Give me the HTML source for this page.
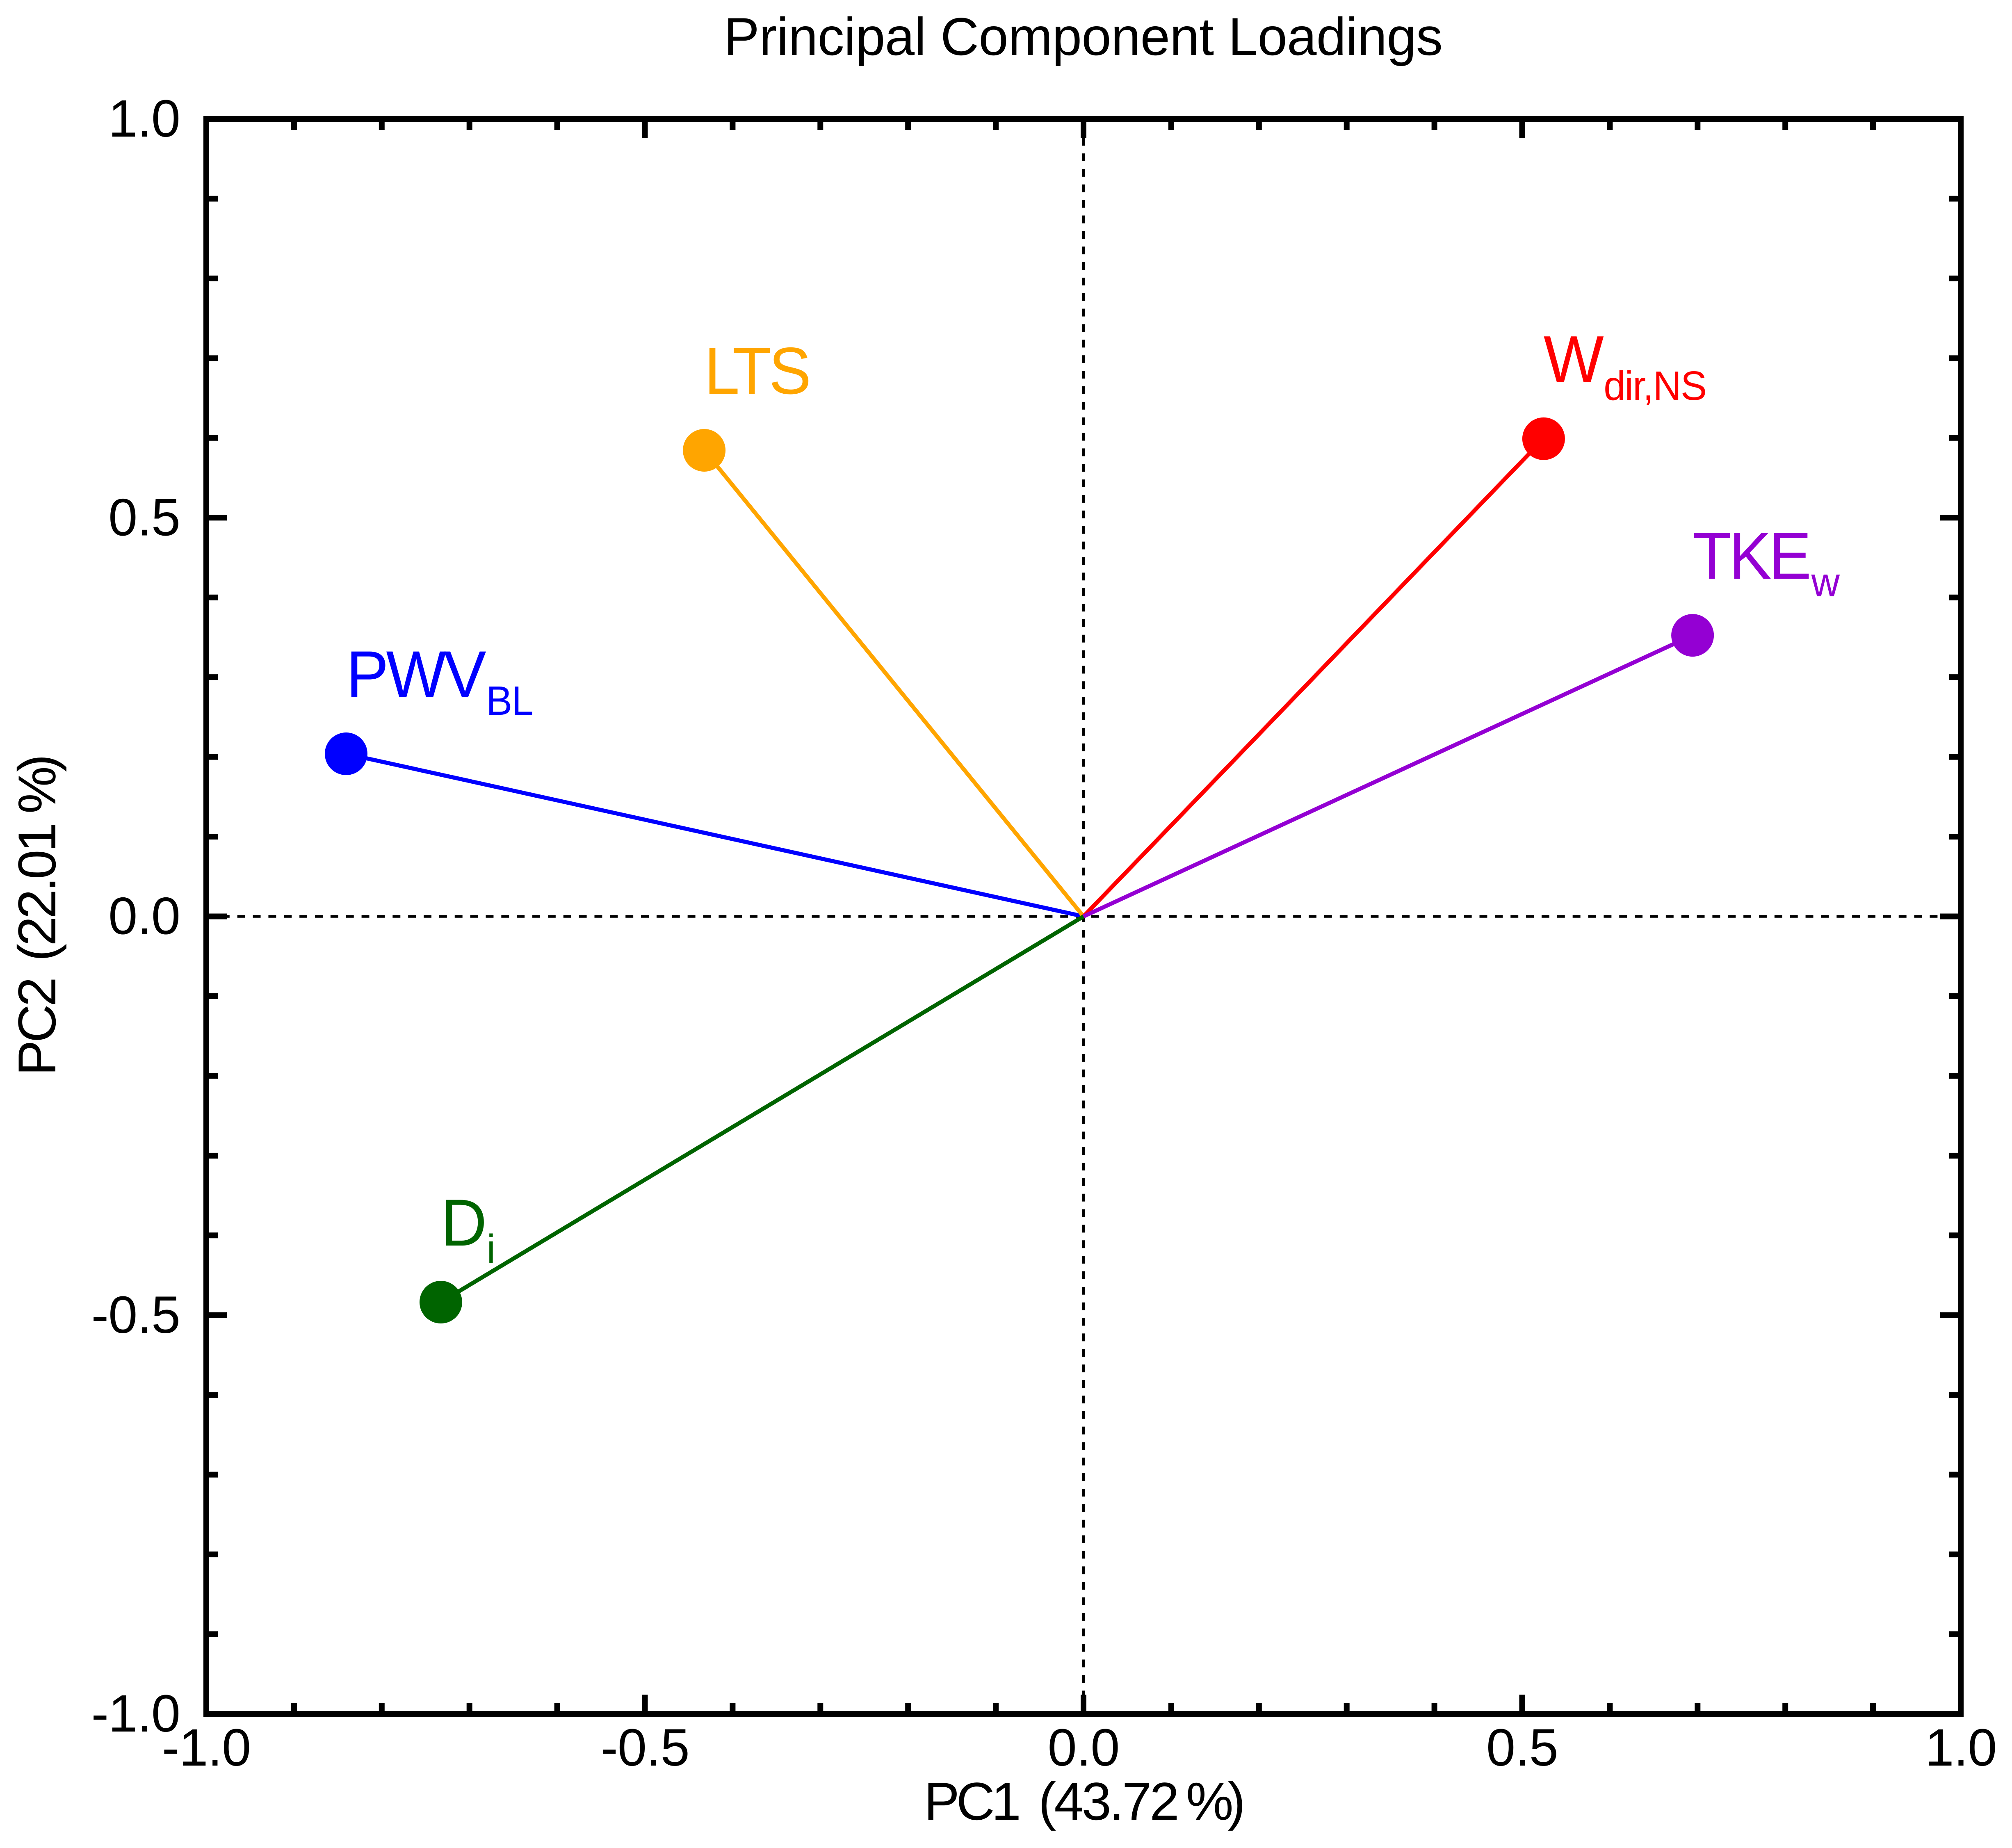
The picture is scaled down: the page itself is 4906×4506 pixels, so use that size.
<!DOCTYPE html>
<html lang="en">
<head>
<meta charset="utf-8">
<title>Principal Component Loadings</title>
<style>
  html, body { margin: 0; padding: 0; background: #fff; }
  svg { display: block; }
  text { font-family: "Liberation Sans", Arial, sans-serif; }
</style>
</head>
<body>
<svg id="chart" xmlns="http://www.w3.org/2000/svg" width="4906" height="4506" viewBox="0 0 4906 4506">
  <rect x="0" y="0" width="4906" height="4506" fill="#ffffff"/>
  <text x="1765" y="134" font-size="130" textLength="1753" lengthAdjust="spacing" fill="#000">Principal Component Loadings</text>
  <text y="4437" font-size="130" fill="#000"><tspan x="2253" letter-spacing="-8">PC1 </tspan><tspan x="2532" letter-spacing="-5">(43.72&#8201;</tspan><tspan x="2892" letter-spacing="-14">%)</tspan></text>
  <text transform="translate(135 2623) rotate(-90)" font-size="130" fill="#000"><tspan x="0" y="0" letter-spacing="-6">PC2 </tspan><tspan x="279" y="0" letter-spacing="-6">(22.01&#8201;</tspan><tspan x="639" y="0" letter-spacing="-14">%)</tspan></text>
  <g id="guides"></g>
  <g id="ticks"></g>
  <g id="tick-labels"></g>
  <g id="series"></g>
  <rect x="503" y="290" width="4278" height="3889" fill="none" stroke="#000" stroke-width="14"/>
</svg>
<script>
// Chart data
const variableNames = ["PWV", "LTS", "W", "D", "TKE"];
const variableSubscripts = ["BL", "", "dir,NS", "i", "w"];
const pc1Loadings = [-0.8406, -0.4324, 0.5245, -0.7326, 0.6943];
const pc2Loadings = [0.2039, 0.5845, 0.5990, -0.4837, 0.3525];
const seriesColors = ["#0000ff", "#ffa500", "#ff0000", "#006400", "#9400d3"];
const majorTicks = [-0.5, 0.0, 0.5];
const minorTicks = [-0.9, -0.8, -0.7, -0.6, -0.4, -0.3, -0.2, -0.1, 0.1, 0.2, 0.3, 0.4, 0.6, 0.7, 0.8, 0.9];
const labelledTicks = [-1.0, -0.5, 0.0, 0.5, 1.0];
const tickLabels = ["-1.0", "-0.5", "0.0", "0.5", "1.0"];

// Axis functions
const plotLeft = 503, plotRight = 4781, plotTop = 290, plotBottom = 4179;
function sx(v) { return plotLeft + (v + 1) / 2 * (plotRight - plotLeft); }
function sy(v) { return plotBottom - (v + 1) / 2 * (plotBottom - plotTop); }

const NS = "http://www.w3.org/2000/svg";
function make(tag, attrs, parent) {
  const el = document.createElementNS(NS, tag);
  for (const k in attrs) el.setAttribute(k, attrs[k]);
  parent.appendChild(el);
  return el;
}

// Zero guides
const guides = document.getElementById("guides");
const dashStyle = { stroke: "#000", "stroke-width": 6.5, "stroke-dasharray": "18.93 18.93", fill: "none" };
const hGuide = make("line", Object.assign({ x1: sx(-1), y1: sy(0), x2: sx(1), y2: sy(0) }, dashStyle), guides);


const vGuide = make("line", Object.assign({ x1: sx(0), y1: sy(-1), x2: sx(0), y2: sy(1) }, dashStyle), guides);



// Ticks on all four sides
const ticksGroup = document.getElementById("ticks");
function drawTicks(values, xLen, yLen, kind) {
  values.forEach(function (v) {
    const x = sx(v), y = sy(v);
    const segs = [
      [x, plotBottom, x, plotBottom - xLen, 'x-' + kind + '-tick-bottom'],
      [x, plotTop, x, plotTop + xLen, 'x-' + kind + '-tick-top'],
      [plotLeft, y, plotLeft + yLen, y, 'y-' + kind + '-tick-left'],
      [plotRight, y, plotRight - yLen, y, 'y-' + kind + '-tick-right']
    ];
    segs.forEach(function (s) {
      const t = make("line", { x1: s[0], y1: s[1], x2: s[2], y2: s[3], stroke: "#000", "stroke-width": 14 }, ticksGroup);
      
      
    });
  });
}
drawTicks(minorTicks, 27, 28, 'minor');
drawTicks(majorTicks, 47, 50, 'major');

// Tick labels
const labelsGroup = document.getElementById("tick-labels");
labelledTicks.forEach(function (v, i) {
  const xl = make("text", { x: sx(v), y: 4305, "font-size": 128, "text-anchor": "middle", "letter-spacing": -1, fill: "#000" }, labelsGroup);
  xl.textContent = tickLabels[i];
  
  
  const yl = make("text", { x: 439, y: sy(v) + 43, "font-size": 128, "text-anchor": "end", "letter-spacing": -1, fill: "#000" }, labelsGroup);
  yl.textContent = tickLabels[i];
  
  
});

// Loading vectors
const seriesGroup = document.getElementById("series");
variableNames.forEach(function (name, i) {
  const px = sx(pc1Loadings[i]), py = sy(pc2Loadings[i]);
  const line = make("line", { x1: sx(0), y1: sy(0), x2: px, y2: py, stroke: seriesColors[i], "stroke-width": 10 }, seriesGroup);
  
  
});
variableNames.forEach(function (name, i) {
  const px = sx(pc1Loadings[i]), py = sy(pc2Loadings[i]);
  const dot = make("circle", { cx: px, cy: py, r: 52, fill: seriesColors[i] }, seriesGroup);
  
  

  const label = make("text", { transform: "translate(" + px + " " + (py - 138) + ") scale(0.96 1)", "font-size": 162, "letter-spacing": -6.5, fill: seriesColors[i] }, seriesGroup);
  
  
  label.appendChild(document.createTextNode(name));
  if (variableSubscripts[i]) {
    const sub = make("tspan", { dx: 6, dy: 43, "font-size": 100, "letter-spacing": -2 }, label);
    sub.textContent = variableSubscripts[i];
  }
});
</script>
</body>
</html>
